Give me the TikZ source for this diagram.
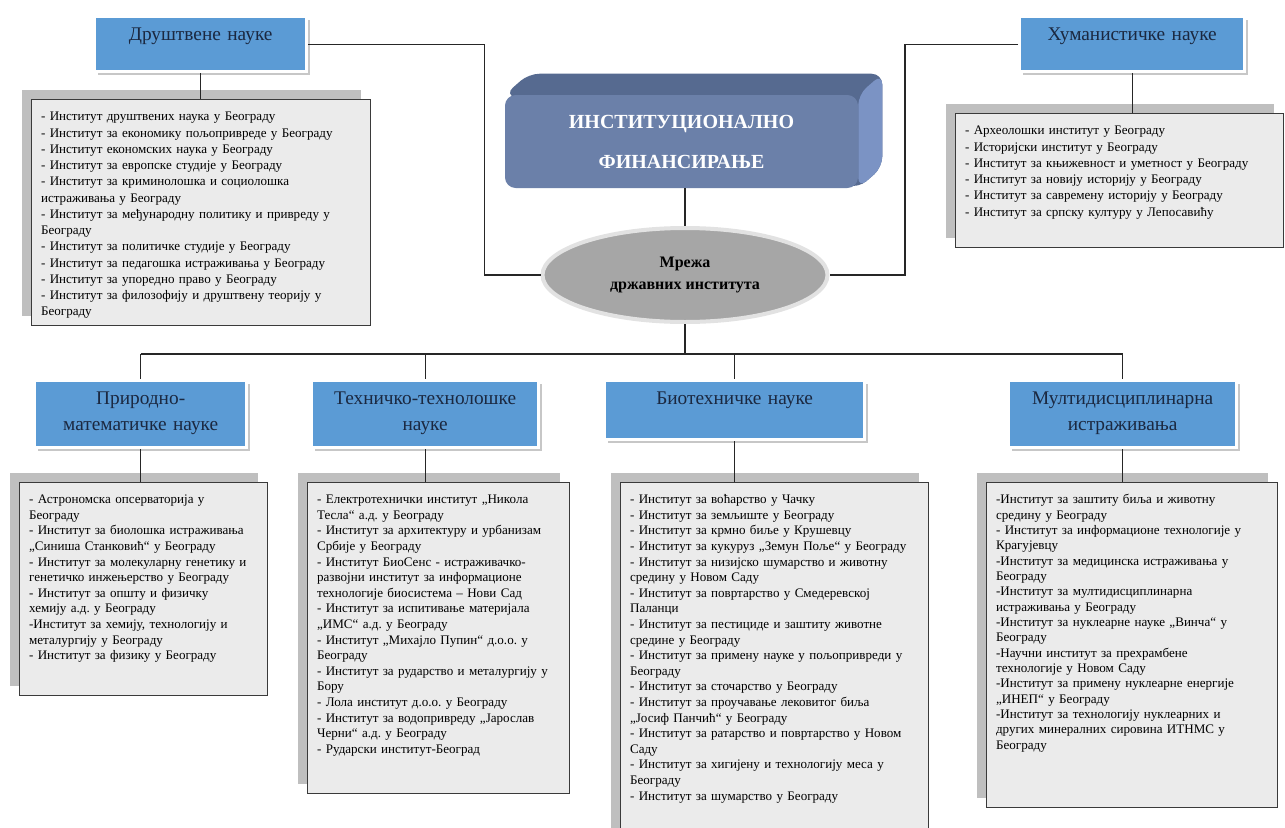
\documentclass[tikz,border=0pt]{standalone}
\usepackage{fontspec}
\setmainfont{Liberation Serif}
\usepackage{tikz}
\usetikzlibrary{shapes.geometric,shadows,backgrounds}

\definecolor{titleblue}{HTML}{5B9BD5}
\definecolor{titleink}{HTML}{1B2840}
\definecolor{listfill}{HTML}{EBEBEB}
\definecolor{listedge}{HTML}{3A3A3A}
\definecolor{listshade}{HTML}{BFBFBF}
\definecolor{fundfront}{HTML}{6B80A9}
\definecolor{fundtop}{HTML}{566A90}
\definecolor{fundside}{HTML}{7B93C4}
\definecolor{hubgray}{HTML}{A6A6A6}
\definecolor{hubrim}{HTML}{E2E2E2}

\begin{document}
\frenchspacing
\begin{tikzpicture}[
    x=0.75pt, y=-0.75pt,
    title/.style={draw=white, line width=2.5pt, fill=titleblue, text=titleink, anchor=north west,
        font=\fontsize{14.5}{19}\selectfont, align=center, inner xsep=4pt, inner ysep=4pt, text height=14pt,
        general shadow={fill=black!22, shadow xshift=2.2pt, shadow yshift=-2.2pt}},
    list/.style={draw=listedge, line width=1.1pt, fill=listfill, anchor=north west,
        font=\fontsize{9.8}{12.2}\selectfont, align=left, inner xsep=7pt, inner ysep=5pt, text height=10.75pt,
        general shadow={fill=listshade, shadow xshift=-7.5pt, shadow yshift=7.5pt}},
    fund/.style={rounded corners=8pt, fill=fundfront, text=white, minimum width=264.75pt, minimum height=69.75pt,
        font=\bfseries\fontsize{15}{30}\selectfont, align=center},
    hub/.style={ellipse, fill=hubgray, draw=hubrim, line width=3pt, minimum width=213.75pt, minimum height=70.5pt,
        inner sep=0pt, font=\bfseries\fontsize{12}{16.5}\selectfont, align=center},
    link/.style={draw=black!85, line width=1pt}
]
\useasboundingbox (0,0) rectangle (1285,828);

% centre
\node[fund] (inst) at (681.5,141.5) {ИНСТИТУЦИОНАЛНО\\ФИНАНСИРАЊЕ};
\begin{scope}[on background layer]
\fill[fundtop, rounded corners=8pt] (inst.north west) -- ++(24,-21) -- ([shift={(24,-21)}]inst.north east)
    -- ([shift={(24,-21)}]inst.south east) -- (inst.south east) -- cycle;
\fill[fundside, rounded corners=8pt] (inst.north east) -- ++(24,-21) -- ([shift={(24,-21)}]inst.south east)
    -- (inst.south east) -- cycle;
\end{scope}
\node[hub] (net) at (685,275) {Мрежа\\државних института};

% top row
\node[title, text width=151pt, text depth=19.25pt] (soc) at (93,15) {Друштвене науке};
\node[title, text width=160.75pt, text depth=19.25pt] (hum) at (1018,15) {Хуманистичке науке};

\node[list, text width=240.25pt, text depth=148.75pt] (soc-list) at (31,99) {%
- Институт друштвених наука у Београду\\
- Институт за економику пољопривреде у Београду\\
- Институт економских наука у Београду\\
- Институт за европске студије у Београду\\
- Институт за криминолошка и социолошка\\
истраживања у Београду\\
- Институт за међународну политику и привреду у\\
Београду\\
- Институт за политичке студије у Београду\\
- Институт за педагошка истраживања у Београду\\
- Институт за упоредно право у Београду\\
- Институт за филозофију и друштвену теорију у\\
Београду};
\node[list, text width=232pt, text depth=79.75pt] (hum-list) at (955,113) {%
- Археолошки институт у Београду\\
- Историјски институт у Београду\\
- Институт за књижевност и уметност у Београду\\
- Институт за новију историју у Београду\\
- Институт за савремену историју у Београду\\
- Институт за српску културу у Лепосавићу};

% bottom row
\node[title, text width=151pt, text depth=28.25pt] (nat) at (33,379) {Природно-\\математичке науке};
\node[title, text width=162.25pt, text depth=28.25pt] (tech) at (310,379) {Техничко-технолошке\\науке};
\node[title, text width=187pt, text depth=22.25pt] (bio) at (603,379) {Биотехничке науке};
\node[title, text width=163pt, text depth=28.25pt] (multi) at (1007,379) {Мултидисциплинарна\\истраживања};

\node[list, text width=172pt, text depth=139pt, font=\fontsize{9.8}{11.7}\selectfont] (nat-list) at (19,482) {%
- Астрономска опсерваторија у\\
Београду\\
- Институт за биолошка истраживања\\
„Синиша Станковић“ у Београду\\
- Институт за молекуларну генетику и\\
генетичко инжењерство у Београду\\
- Институт за општу и физичку\\
хемију а.д. у Београду\\
-Институт за хемију, технологију и\\
металургију у Београду\\
- Институт за физику у Београду};
\node[list, text width=182.5pt, text depth=212.5pt, font=\fontsize{9.8}{11.7}\selectfont] (tech-list) at (307,482) {%
- Електротехнички институт „Никола\\
Тесла“ а.д. у Београду\\
- Институт за архитектуру и урбанизам\\
Србије у Београду\\
- Институт БиоСенс - истраживачко-\\
развојни институт за информационе\\
технологије биосистема – Нови Сад\\
- Институт за испитивање материјала\\
„ИМС“ а.д. у Београду\\
- Институт „Михајло Пупин“ д.о.о. у\\
Београду\\
- Институт за рударство и металургију у\\
Бору\\
- Лола институт д.о.о. у Београду\\
- Институт за водопривреду „Јарослав\\
Черни“ а.д. у Београду\\
- Рударски институт-Београд};
\node[list, text width=217pt, text depth=249.25pt, font=\fontsize{9.8}{11.7}\selectfont] (bio-list) at (620,482) {%
- Институт за воћарство у Чачку\\
- Институт за земљиште у Београду\\
- Институт за крмно биље у Крушевцу\\
- Институт за кукуруз „Земун Поље“ у Београду\\
- Институт за низијско шумарство и животну\\
средину у Новом Саду\\
- Институт за повртарство у Смедеревској\\
Паланци\\
- Институт за пестициде и заштиту животне\\
средине у Београду\\
- Институт за примену науке у пољопривреди у\\
Београду\\
- Институт за сточарство у Београду\\
- Институт за проучавање лековитог биља\\
„Јосиф Панчић“ у Београду\\
- Институт за ратарство и повртарство у Новом\\
Саду\\
- Институт за хигијену и технологију меса у\\
Београду\\
- Институт за шумарство у Београду};
\node[list, text width=204.25pt, text depth=223pt, font=\fontsize{9.8}{11.5}\selectfont] (multi-list) at (986,482) {%
-Институт за заштиту биља и животну\\
средину у Београду\\
- Институт за информационе технологије у\\
Крагујевцу\\
-Институт за медицинска истраживања у\\
Београду\\
-Институт за мултидисциплинарна\\
истраживања у Београду\\
-Институт за нуклеарне науке „Винча“ у\\
Београду\\
-Научни институт за прехрамбене\\
технологије у Новом Саду\\
-Институт за примену нуклеарне енергије\\
„ИНЕП“ у Београду\\
-Институт за технологију нуклеарних и\\
других минералних сировина ИТНМС у\\
Београду};

% connectors
\draw[link] (net.north |- inst.south) -- (net.north);
\draw[link] (soc.east) -- ++(176,0) |- (net.west);
\draw[link] (hum.west) -- ++(-113,0) |- (net.east);
\draw[link] (net.south) -- ++(0,30) coordinate (bus);
\draw[link] (nat.north |- bus) -- (multi.north |- bus);
\foreach \t in {nat,tech,bio,multi}
    \draw[link] (\t.north |- bus) -- (\t.north);
\foreach \t in {soc,hum,nat,tech,bio,multi}
    \draw[link] (\t.south) -- (\t.south |- \t-list.north);
\end{tikzpicture}
\end{document}
